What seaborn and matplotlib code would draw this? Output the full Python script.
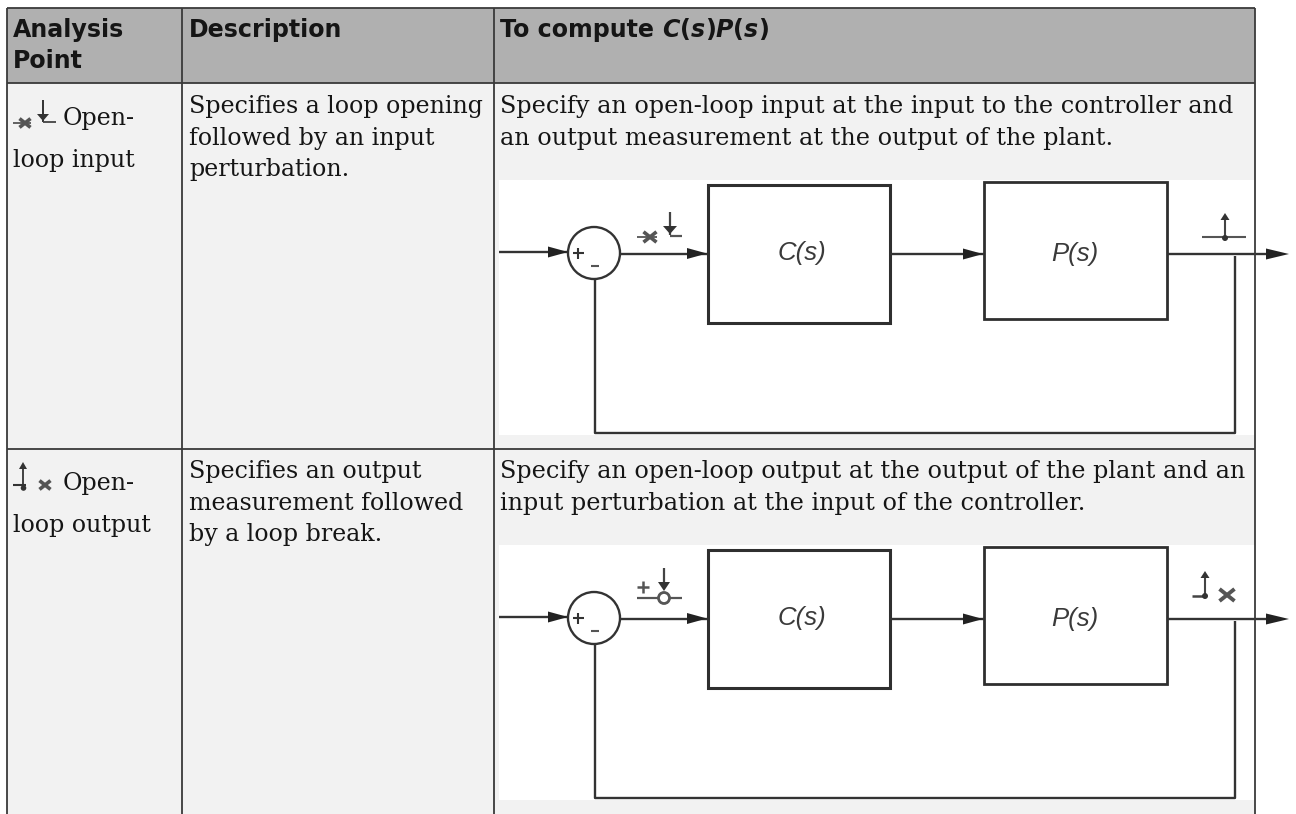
import matplotlib
matplotlib.use("Agg")
import matplotlib.pyplot as plt
from matplotlib.patches import Rectangle, Circle, Polygon
import seaborn as sns

sns.set_theme(style="white")

# ---- content ----
header_col1 = ["Analysis", "Point"]
header_col2 = ["Description"]
header_col3 = [("To compute ", "normal"), ("C", "oblique"), ("(", "normal"), ("s", "oblique"),
               (")", "normal"), ("P", "oblique"), ("(", "normal"), ("s", "oblique"), (")", "normal")]
row_names = [["Open-", "loop input"], ["Open-", "loop output"]]
row_desc = [["Specifies a loop opening", "followed by an input", "perturbation."],
            ["Specifies an output", "measurement followed", "by a loop break."]]
row_compute = [["Specify an open-loop input at the input to the controller and",
                "an output measurement at the output of the plant."],
               ["Specify an open-loop output at the output of the plant and an",
                "input perturbation at the input of the controller."]]
blocks = ["C(s)", "P(s)"]

INK = "#333333"
BORDER = "#3a3a3a"
SERIF = "DejaVu Serif"
SANS = "DejaVu Sans"
BODY = 17.15
WIDE = 17.2

fig = plt.figure(figsize=(12.96, 8.14), dpi=100, facecolor="white")
ax = fig.add_axes([0, 0, 1, 1])
ax.set_xlim(0, 1296)
ax.set_ylim(814, 0)
ax.axis("off")


def wire(xs, ys, lw=1.7, color=INK, z=4):
    sns.lineplot(x=xs, y=ys, sort=False, estimator=None, color=color, linewidth=lw,
                 ax=ax, legend=False, zorder=z, solid_capstyle="butt")


def arrow(tip_x, y, length=21, half=5.5):
    ax.add_patch(Polygon([(tip_x, y), (tip_x - length, y - half), (tip_x - length, y + half)],
                         closed=True, fc="#222222", ec="none", zorder=5))


def up_arrow(x, tip_y, half=4.5, length=7, down=False):
    d = -length if down else length
    ax.add_patch(Polygon([(x, tip_y), (x - half, tip_y + d), (x + half, tip_y + d)],
                         closed=True, fc=INK, ec="none", zorder=5))


def cross(x, y, s=6, lw=2.4, tail=0):
    wire([x - s, x + s], [y - s * 0.8, y + s * 0.8], lw=lw, color="#555555")
    wire([x - s, x + s], [y + s * 0.8, y - s * 0.8], lw=lw, color="#555555")
    if tail:
        wire([x - tail, x + s], [y, y], lw=1.3, color="#555555")


def dot(x, y, r=3):
    ax.add_patch(Circle((x, y), r, fc=INK, ec="none", zorder=5))


# ---- table backgrounds ----
ax.add_patch(Rectangle((7, 7.5), 1248, 75.5, fc="#b0b0b0", ec="none", zorder=0))
ax.add_patch(Rectangle((7, 83), 1248, 731, fc="#f2f2f2", ec="none", zorder=0))

# ---- diagrams ----
for dy in [0, 365]:
    ax.add_patch(Rectangle((498.5, 180 + dy), 756, 255, fc="white", ec="none", zorder=1))
    ax.add_patch(Rectangle((708, 185 + dy), 182, 137.5, fc="white", ec="#2f2f2f", lw=2.2, zorder=3))
    ax.add_patch(Rectangle((984, 182 + dy), 183, 136.5, fc="white", ec="#2f2f2f", lw=2.0, zorder=3))
    ax.add_patch(Circle((594, 253 + dy), 26, fc="white", ec=INK, lw=1.7, zorder=3))
    wire([498.5, 568], [252 + dy, 252 + dy])
    arrow(568, 252 + dy, 20)
    wire([620, 707], [253.5 + dy, 253.5 + dy])
    arrow(707, 253.5 + dy, 20)
    wire([890, 984], [254 + dy, 254 + dy])
    arrow(983, 254 + dy, 20)
    wire([1167, 1275], [254 + dy, 254 + dy])
    arrow(1289, 254 + dy, 23)
    wire([595, 595, 1235, 1235], [279 + dy, 433 + dy, 433 + dy, 256 + dy])
    wire([572.5, 584], [253 + dy, 253 + dy], lw=1.5, color="#333333", z=6)
    wire([578, 578], [247.5 + dy, 259 + dy], lw=1.5, color="#333333", z=6)
    wire([590.5, 598.5], [266 + dy, 266 + dy], lw=1.5, color="#555555", z=6)
    ax.text(802, 253 + dy, blocks[0], fontsize=18.5, style="italic", family="Liberation Sans",
            color="#3a3a3a", ha="center", va="center", zorder=6)
    ax.text(1075, 254 + dy, blocks[1], fontsize=18.5, style="italic", family="Liberation Sans",
            color="#3a3a3a", ha="center", va="center", zorder=6)

# row 1 markers in the diagram
cross(650, 237, s=6.5, lw=2.6, tail=13)
wire([670, 670], [212, 235], lw=1.6, color="#444444")
up_arrow(670, 234, half=7, length=8, down=True)
wire([670, 682], [235.5, 235.5], lw=1.6, color="#555555")
wire([1202, 1246], [236.5, 236.5], lw=1.5, color="#555555")
wire([1225, 1225], [218, 238], lw=1.5, color="#444444")
up_arrow(1225, 213)
dot(1225, 238)

# row 2 markers in the diagram
wire([637, 682], [597.5, 597.5], lw=1.6, color="#555555")
wire([637, 649], [587, 587], lw=1.8, color="#555555")
wire([643, 643], [581, 593], lw=1.8, color="#555555")
ax.add_patch(Circle((664, 598), 5.5, fc="white", ec="#555555", lw=2.0, zorder=5))
wire([664, 664], [568, 584], lw=1.6, color="#444444")
up_arrow(664, 591, half=6, length=9, down=True)
wire([1192, 1205], [595.5, 595.5], lw=1.8, color="#444444")
wire([1205, 1205], [578, 597], lw=1.5, color="#444444")
up_arrow(1205, 571)
dot(1205, 596)
cross(1227, 595, s=7.5, lw=2.8)

# small icons in the first column
cross(25, 123, s=5.5, lw=2.6, tail=12)
wire([43, 43], [100, 122], lw=1.3, color="#222222")
up_arrow(43, 121, half=6, length=7, down=True)
wire([43, 56], [122, 122], lw=1.3, color="#444444")
wire([23, 23], [468, 490], lw=1.3, color="#333333")
up_arrow(23, 462, half=4, length=7)
wire([13, 26], [485, 485], lw=1.5, color="#333333")
dot(23.5, 488, 2.8)
cross(45, 485, s=5.5, lw=2.6, tail=0)

# ---- grid lines ----
for x in [7, 181.5, 493.5, 1255]:
    wire([x, x], [7.5, 814], lw=1.3, color=BORDER, z=8)
for y in [7.5, 83, 449]:
    wire([7, 1255], [y, y], lw=1.3, color=BORDER, z=8)


# ---- text ----
def lines(x, baselines, texts, **kw):
    for b, t in zip(baselines, texts):
        ax.text(x, b, t, va="baseline", ha="left", color="#151515", zorder=9, **kw)


lines(13, [37, 68], header_col1, family=SANS, weight="bold", fontsize=BODY)
lines(189, [37], header_col2, family=SANS, weight="bold", fontsize=BODY)

fig.canvas.draw()
renderer = fig.canvas.get_renderer()
xpos = 500.0
for seg, st in header_col3:
    t = ax.text(xpos, 37, seg, family=SANS, weight="bold", style=st, fontsize=17.1,
                va="baseline", ha="left", color="#151515", zorder=9)
    xpos += t.get_window_extent(renderer).width

lines(63, [125], [row_names[0][0]], family=SERIF, fontsize=BODY)
lines(13, [167], [row_names[0][1]], family=SERIF, fontsize=BODY)
lines(63, [490], [row_names[1][0]], family=SERIF, fontsize=BODY)
lines(13, [532], [row_names[1][1]], family=SERIF, fontsize=BODY)

lines(189, [113, 145, 176], row_desc[0], family=SERIF, fontsize=BODY)
lines(189, [478, 510, 541], row_desc[1], family=SERIF, fontsize=BODY)
lines(500, [113, 145], row_compute[0], family=SERIF, fontsize=WIDE)
lines(500, [478, 510], row_compute[1], family=SERIF, fontsize=WIDE)

fig.savefig("out.png", dpi=100, facecolor="white")
